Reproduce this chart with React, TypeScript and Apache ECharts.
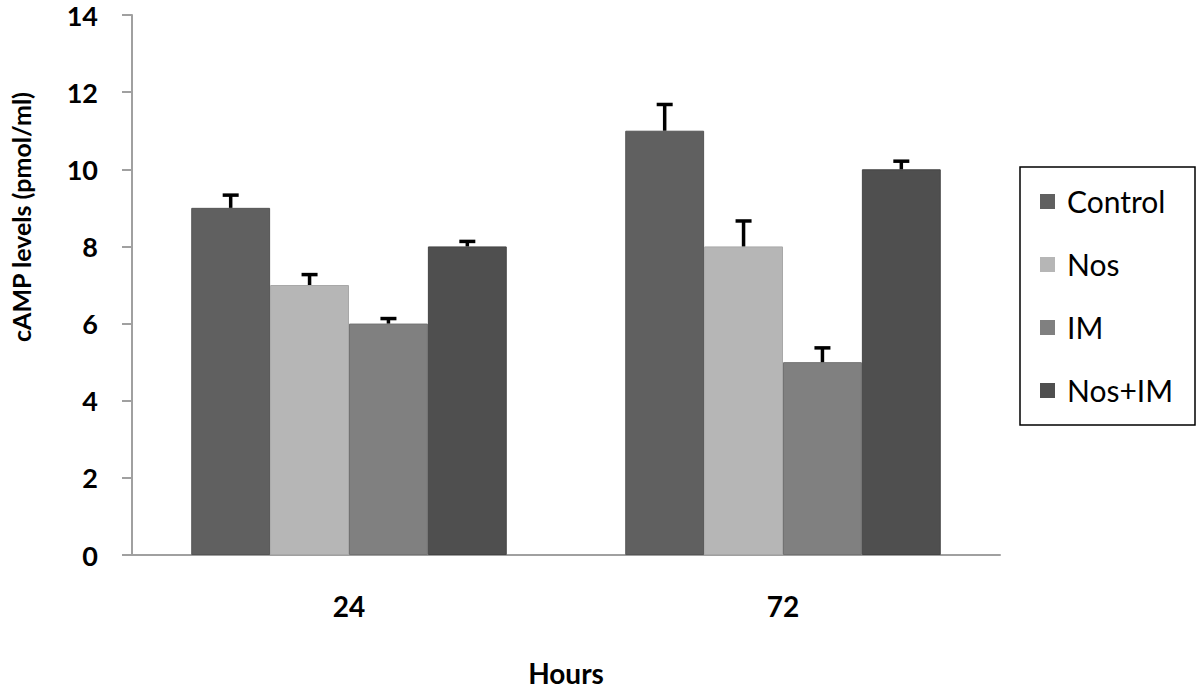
import React, { useEffect, useRef } from "react";
import * as echarts from "echarts";

const categories = ["24", "72"];
const seriesNames = ["Control", "Nos", "IM", "Nos+IM"];
const controlValues = [9.0, 11.0];
const nosValues = [7.0, 8.0];
const imValues = [6.0, 5.0];
const nosImValues = [8.0, 10.0];
const controlErr = [0.33, 0.68];
const nosErr = [0.27, 0.66];
const imErr = [0.13, 0.37];
const nosImErr = [0.13, 0.21];
const yTicks = [0, 2, 4, 6, 8, 10, 12, 14];
const xTitle = "Hours";
const yTitle = "cAMP levels (pmol/ml)";

const colors = ["#606060", "#b6b6b6", "#808080", "#4f4f4f"];
const borderColors = ["#555555", "#a8a8a8", "#727272", "#454545"];
const GAP = 0.273;

export default function App() {
  const ref = useRef<HTMLDivElement>(null);
  useEffect(() => {
    if (!ref.current) return;
    const chart = echarts.init(ref.current, null, { renderer: "svg" });
    const values = [controlValues, nosValues, imValues, nosImValues];
    const errs = [controlErr, nosErr, imErr, nosImErr];
    const errData: number[][] = [];
    values.forEach((vals, s) => {
      vals.forEach((v, c) => {
        errData.push([c, v, errs[s][c], s]);
      });
    });
    const font = "Lato, 'Open Sans', sans-serif";
    chart.setOption({
      animation: false,
      backgroundColor: "#ffffff",
      grid: { left: 132, right: 200, top: 15, bottom: 142 },
      legend: { show: false },
      xAxis: {
        type: "category",
        data: categories,
        axisLine: { lineStyle: { color: "#a0a0a0", width: 2 } },
        axisTick: { show: false },
        axisLabel: {
          margin: 37,
          fontFamily: font,
          fontWeight: "bold",
          fontSize: 28,
          color: "#000",
        },
      },
      yAxis: {
        type: "value",
        min: 0,
        max: 14,
        interval: 2,
        splitLine: { show: false },
        axisLine: { show: true, lineStyle: { color: "#a0a0a0", width: 2 } },
        axisTick: { show: true, length: 10, lineStyle: { color: "#a0a0a0", width: 2 } },
        axisLabel: {
          margin: 34,
          fontFamily: font,
          fontWeight: "bold",
          fontSize: 27,
          lineHeight: 24,
          color: "#000",
          formatter: (v: number) => (yTicks.includes(v) ? String(v) : ""),
        },
      },
      series: [
        ...seriesNames.map((name, i) => ({
          name,
          type: "bar",
          data: values[i],
          barGap: "0%",
          barCategoryGap: GAP * 100 + "%",
          itemStyle: { color: colors[i], borderColor: borderColors[i], borderWidth: 1 },
        })),
        {
          type: "custom",
          name: "err",
          z: 10,
          data: errData,
          renderItem: (params: any, api: any) => {
            const c = api.value(0);
            const v = api.value(1);
            const e = api.value(2);
            const s = api.value(3);
            const catW = api.size([1, 0])[0];
            const barW = (catW * (1 - GAP)) / 4;
            const base = api.coord([c, v]);
            const topP = api.coord([c, v + e]);
            const x = base[0] + (s - 1.5) * barW;
            const style = { stroke: "#000", lineWidth: 3.5 };
            return {
              type: "group",
              children: [
                { type: "line", shape: { x1: x, y1: base[1], x2: x, y2: topP[1] }, style },
                { type: "line", shape: { x1: x - 8, y1: topP[1], x2: x + 8, y2: topP[1] }, style },
              ],
            };
          },
        },
      ],
      graphic: [
        {
          type: "text",
          x: 566,
          y: 673,
          style: {
            text: xTitle,
            fontFamily: font,
            fontWeight: "bold",
            fontSize: 28,
            fill: "#000",
            align: "center",
            verticalAlign: "middle",
          },
        },
        {
          type: "text",
          x: 21,
          y: 217,
          rotation: Math.PI / 2,
          style: {
            text: yTitle,
            fontFamily: font,
            fontWeight: "bold",
            fontSize: 25,
            fill: "#000",
            align: "center",
            verticalAlign: "middle",
          },
        },
        {
          type: "rect",
          shape: { x: 1020, y: 167, width: 175, height: 258 },
          style: { fill: "#fff", stroke: "#000", lineWidth: 1.5 },
        },
        ...seriesNames.map((name, i) => ({
          type: "group",
          children: [
            {
              type: "rect",
              shape: { x: 1040, y: 194 + i * 63, width: 15, height: 15 },
              style: { fill: colors[i] },
            },
            {
              type: "text",
              x: 1067,
              y: 201 + i * 63,
              style: {
                text: name,
                fontFamily: font,
                fontSize: 30,
                fill: "#000",
                verticalAlign: "middle",
                align: "left",
              },
            },
          ],
        })),
      ],
    });
    return () => chart.dispose();
  }, []);
  return <div ref={ref} style={{ width: 1200, height: 697, position: "absolute", left: 0, top: 0 }} />;
}
